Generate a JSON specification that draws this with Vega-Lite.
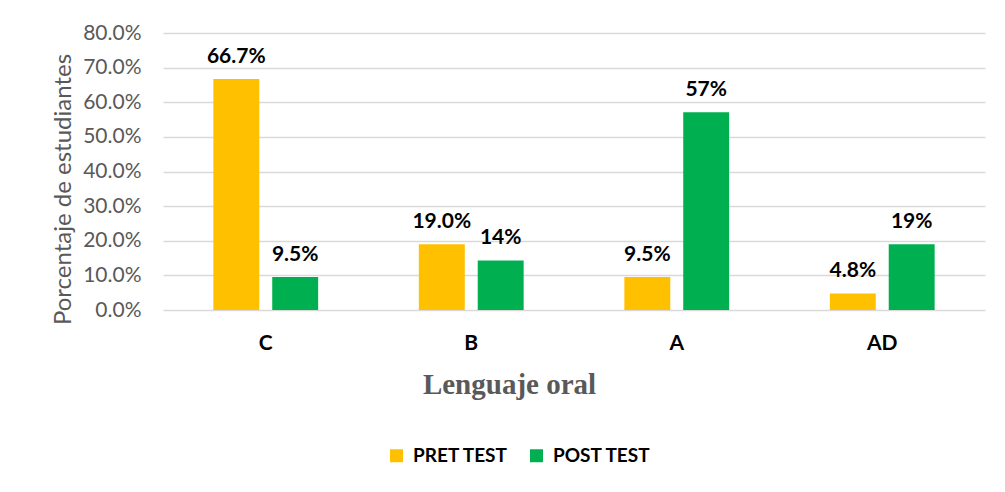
{
  "$schema": "https://vega.github.io/schema/vega-lite/v6.json",
  "width": 822,
  "height": 277,
  "autosize": {"type": "none"},
  "padding": {"left": 163, "top": 33, "right": 20, "bottom": 182},
  "background": "white",
  "data": {
    "values": [
      {"nivel": "C", "prueba": "PRET TEST", "valor": 0.667, "etiqueta": "66.7%"},
      {"nivel": "C", "prueba": "POST TEST", "valor": 0.095, "etiqueta": "9.5%"},
      {"nivel": "B", "prueba": "PRET TEST", "valor": 0.19, "etiqueta": "19.0%"},
      {"nivel": "B", "prueba": "POST TEST", "valor": 0.143, "etiqueta": "14%"},
      {"nivel": "A", "prueba": "PRET TEST", "valor": 0.095, "etiqueta": "9.5%"},
      {"nivel": "A", "prueba": "POST TEST", "valor": 0.571, "etiqueta": "57%"},
      {"nivel": "AD", "prueba": "PRET TEST", "valor": 0.048, "etiqueta": "4.8%"},
      {"nivel": "AD", "prueba": "POST TEST", "valor": 0.19, "etiqueta": "19%"}
    ]
  },
  "encoding": {
    "x": {
      "field": "nivel",
      "type": "nominal",
      "sort": ["C", "B", "A", "AD"],
      "scale": {"paddingInner": 0.49, "paddingOuter": 0.245},
      "axis": {
        "title": "Lenguaje oral",
        "labelAngle": 0,
        "labelFont": "Lato",
        "labelFontSize": 21,
        "labelFontWeight": "bold",
        "labelColor": "#000000",
        "labelPadding": 22,
        "ticks": false,
        "domain": false,
        "titleFont": "Liberation Serif",
        "titleFontSize": 29,
        "titleFontWeight": "bold",
        "titleColor": "#595959",
        "titleAnchor": "start",
        "titleAlign": "center",
        "titleX": 346,
        "titleY": 83,
        "titleBaseline": "alphabetic"
      }
    },
    "xOffset": {
      "field": "prueba",
      "type": "nominal",
      "sort": ["PRET TEST", "POST TEST"],
      "scale": {"paddingInner": 0.22, "paddingOuter": 0}
    },
    "y": {
      "field": "valor",
      "type": "quantitative",
      "scale": {"domain": [0, 0.8], "nice": false},
      "axis": {
        "title": "Porcentaje de estudiantes",
        "format": ".1%",
        "values": [0, 0.1, 0.2, 0.3, 0.4, 0.5, 0.6, 0.7, 0.8],
        "labelFont": "Lato",
        "labelFontSize": 21,
        "labelColor": "#595959",
        "labelPadding": 22,
        "ticks": false,
        "domain": false,
        "grid": true,
        "gridColor": "#d9d9d9",
        "gridWidth": 1.3,
        "titleFont": "Lato",
        "titleFontSize": 24,
        "titleFontWeight": "normal",
        "titleColor": "#595959",
        "titleAnchor": "start",
        "titleAlign": "center",
        "titleX": -100,
        "titleY": 156,
        "titleBaseline": "middle"
      }
    }
  },
  "layer": [
    {
      "mark": {"type": "bar"},
      "encoding": {
        "color": {
          "field": "prueba",
          "type": "nominal",
          "sort": ["PRET TEST", "POST TEST"],
          "scale": {"domain": ["PRET TEST", "POST TEST"], "range": ["#FFC000", "#00B050"]},
          "legend": {
            "title": null,
            "orient": "none",
            "direction": "horizontal",
            "legendX": 224,
            "legendY": 413,
            "symbolType": "square",
            "symbolSize": 169,
            "symbolStrokeWidth": 0,
            "labelFont": "Lato",
            "labelFontSize": 19,
            "labelFontWeight": "bold",
            "labelColor": "#000000",
            "labelOffset": 7,
            "columnPadding": 18
          }
        }
      }
    },
    {
      "mark": {"type": "text", "baseline": "alphabetic", "dy": -16, "font": "Lato", "fontSize": 21, "fontWeight": "bold", "color": "#000000"},
      "encoding": {
        "text": {"field": "etiqueta", "type": "nominal"}
      }
    }
  ],
  "config": {
    "view": {"stroke": null}
  }
}
